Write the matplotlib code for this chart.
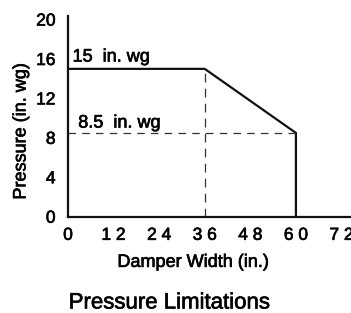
import matplotlib.pyplot as plt
import matplotlib.patheffects as pe

# Pressure limit curve
damper_width = [0, 36, 60, 60]
pressure = [15, 15, 8.5, 0]

# Reference guides
knee_width = 36
low_pressure = 8.5
max_width = 60

x_ticks = [0, 12, 24, 36, 48, 60, 72]
x_tick_labels = ['0', '1 2', '2 4', '3 6', '4 8', '6 0', '7 2']
y_ticks = [0, 4, 8, 12, 16, 20]

plt.rcParams['font.family'] = ['Liberation Sans', 'DejaVu Sans']

# slightly heavier strokes to mimic a medium weight face
heavy = [pe.withStroke(linewidth=0.5, foreground='#111111')]

fig = plt.figure(figsize=(3.51, 3.13), dpi=100)
ax = fig.add_axes([0.1937, 0.3077, 0.8063, 0.6423])

ax.plot(damper_width, pressure, color='#111111', lw=1.6, solid_joinstyle='miter')
ax.plot([knee_width, knee_width], [0, pressure[0]], color='#333333', lw=0.9,
        dashes=(7, 5))
ax.plot([0, max_width], [low_pressure, low_pressure], color='#333333', lw=0.9,
        dashes=(6, 5))

ax.text(1.2, 16.2, '15  in. wg', fontsize=13, va='center', ha='left', path_effects=heavy)
ax.text(2.7, 9.5, '8.5  in. wg', fontsize=13, va='center', ha='left', path_effects=heavy)

ax.set_xlim(0, 74.5)
ax.set_ylim(0, 20.4)
ax.set_xticks(x_ticks)
ax.set_xticklabels(x_tick_labels)
ax.set_yticks(y_ticks)
ax.tick_params(length=0, labelsize=12.5)
ax.tick_params(axis='x', pad=8)
ax.tick_params(axis='y', pad=9)
for lbl in ax.get_xticklabels() + ax.get_yticklabels():
    lbl.set_path_effects(heavy)

for side in ['top', 'right']:
    ax.spines[side].set_visible(False)
for side in ['left', 'bottom']:
    ax.spines[side].set_linewidth(1.6)
    ax.spines[side].set_color('#111111')

ax.set_xlabel('Damper Width (in.)', fontsize=13, path_effects=heavy)
ax.set_ylabel('Pressure (in. wg)', fontsize=13, path_effects=heavy)
ax.xaxis.set_label_coords(0.442, -0.185)
ax.yaxis.set_label_coords(-0.136, 0.424)

fig.text(0.483, 0.032, 'Pressure Limitations', fontsize=16, ha='center', va='center',
         path_effects=heavy)

fig.savefig('out.png', dpi=100)
